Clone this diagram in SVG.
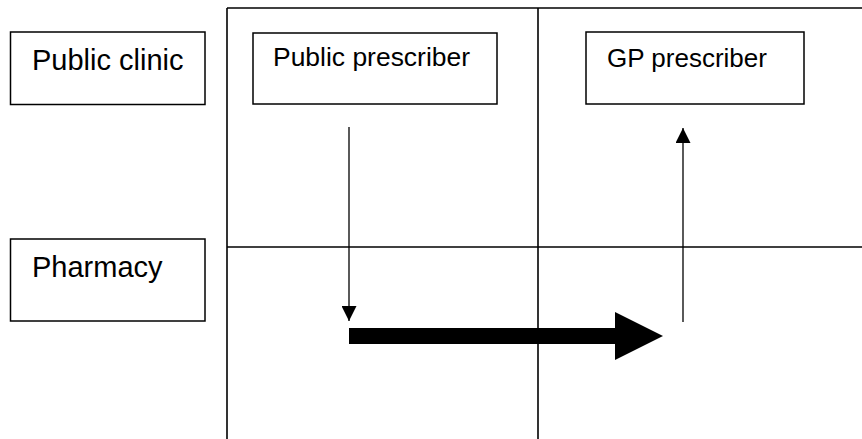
<svg xmlns="http://www.w3.org/2000/svg" width="862" height="439" viewBox="0 0 862 439">
<style>
.box{fill:#fff;stroke:#000;stroke-width:1.5}
.grid{stroke:#000;stroke-width:1.6;fill:none}
.lbl{font-family:"Liberation Sans",Arial,sans-serif;fill:#000}
.thin{stroke:#000;stroke-width:1.3;fill:none}
</style>
<defs>
<marker id="ah" viewBox="0 0 16 15" refX="15" refY="7.5" markerWidth="16" markerHeight="15" markerUnits="userSpaceOnUse" orient="auto">
<path d="M0,0 L15,7.5 L0,15 z" fill="#000"/>
</marker>
</defs>
<rect width="862" height="439" fill="#fff"/>
<g id="grid">
<line class="grid" x1="227" y1="8" x2="862" y2="8"/>
<line class="grid" x1="227" y1="8" x2="227" y2="439"/>
<line class="grid" x1="538" y1="8" x2="538" y2="439"/>
<line class="grid" x1="227" y1="247" x2="862" y2="247"/>
</g>
<g id="public-clinic">
<rect class="box" x="10.5" y="32" width="194.5" height="72.5"/>
<text class="lbl" x="32" y="70" font-size="29">Public clinic</text>
</g>
<g id="pharmacy">
<rect class="box" x="10.5" y="239" width="194.5" height="82"/>
<text class="lbl" x="32" y="277" font-size="29">Pharmacy</text>
</g>
<g id="public-prescriber">
<rect class="box" x="253" y="33" width="244" height="71"/>
<text class="lbl" x="273" y="66" font-size="25" textLength="197" lengthAdjust="spacingAndGlyphs">Public prescriber</text>
</g>
<g id="gp-prescriber">
<rect class="box" x="586" y="32" width="218" height="72"/>
<text class="lbl" x="607" y="67" font-size="26">GP prescriber</text>
</g>
<g id="connectors">
<line class="thin" x1="349" y1="127" x2="349" y2="321" marker-end="url(#ah)"/>
<line class="thin" x1="683" y1="322" x2="683" y2="128" marker-end="url(#ah)"/>
<path d="M349,328 L615,328 L615,312 L663,336 L615,360 L615,344 L349,344 z" fill="#000"/>
</g>
</svg>
